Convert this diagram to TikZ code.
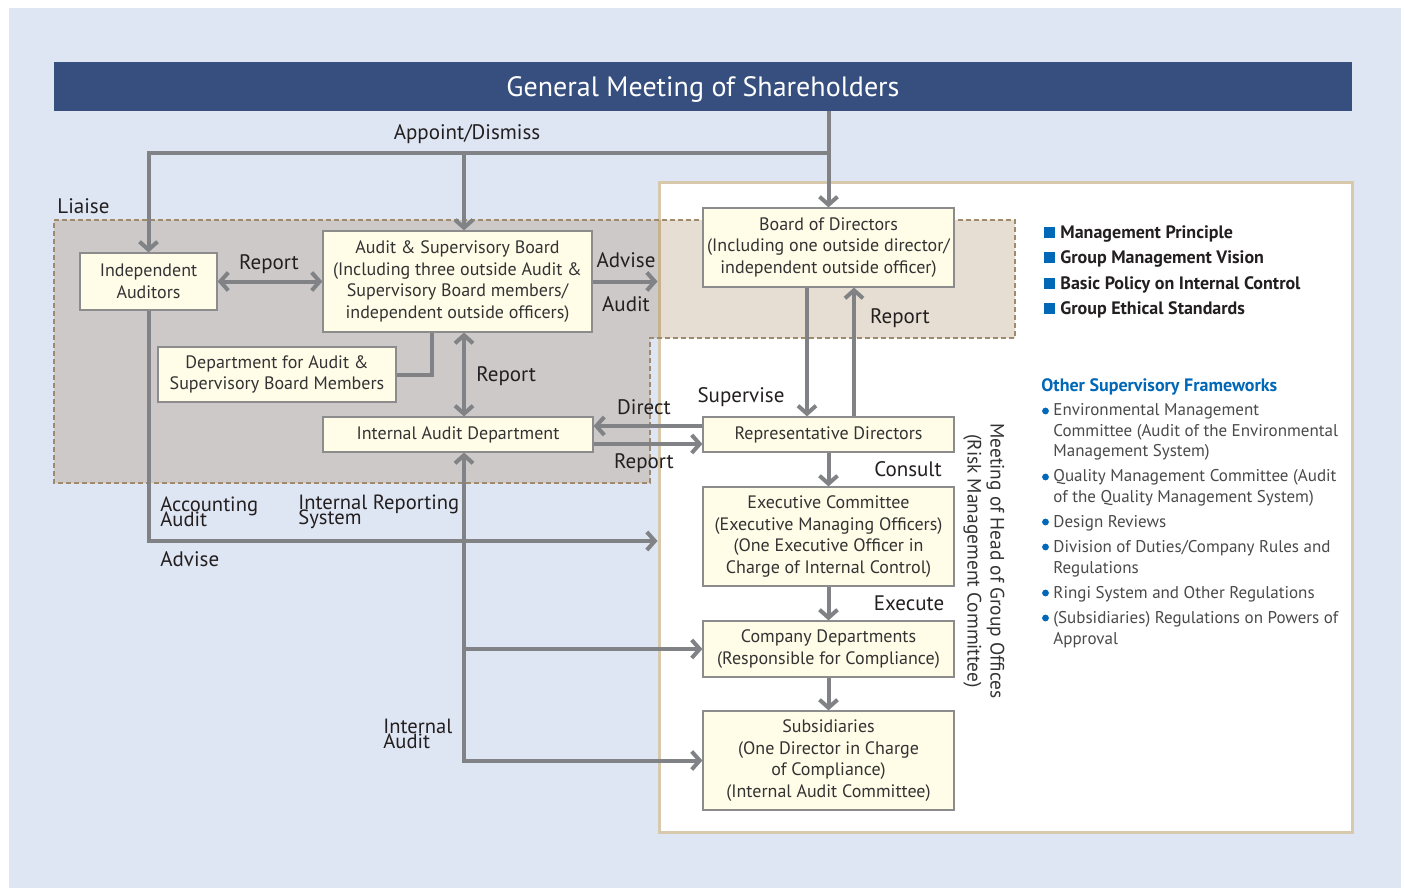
\documentclass[tikz,border=0pt]{standalone}
\usepackage{fontspec}
\setmainfont{PT Sans}
\usepackage{tikz}
\usetikzlibrary{arrows.meta,calc}
\usepackage{xcolor}
\definecolor{bgblue}{HTML}{DFE6F3}
\definecolor{hdrblue}{HTML}{364F7F}
\definecolor{panelline}{HTML}{D9C9AC}
\definecolor{dashline}{HTML}{A08A6C}
\definecolor{tint}{RGB}{120,77,12}
\definecolor{boxfill}{HTML}{FFFCE8}
\definecolor{boxline}{HTML}{8C8C8C}
\definecolor{arrgray}{HTML}{808285}
\definecolor{boxtext}{HTML}{333333}
\definecolor{lbltext}{HTML}{231F20}
\definecolor{ablue}{HTML}{0068B7}
\definecolor{fwktext}{HTML}{4A4A4A}
\newcommand\tightfont{\fontsize{10.3}{7.5}\selectfont\lineskiplimit=-20pt\relax}

\begin{document}
\begin{tikzpicture}[x=0.5pt,y=-0.5pt,>={Straight Barb[length=4pt,width=9pt]},
  every node/.style={font=\fontsize{9}{10.75}\selectfont,text=boxtext},
  box/.style={draw=boxline,line width=0.6pt,fill=boxfill,align=center,inner sep=0pt},
  lbl/.style={font=\fontsize{10.5}{12}\selectfont,text=lbltext},
  tight/.style={font=\tightfont,text=lbltext,align=left,anchor=west,inner sep=0pt},
  conn/.style={draw=arrgray,line width=2pt},
  sqmark/.style={fill=ablue,minimum size=5.5pt,inner sep=0pt},
  prin/.style={anchor=west,inner sep=0pt,font=\bfseries\fontsize{9}{10}\selectfont,text=lbltext},
  dotmark/.style={circle,fill=ablue,inner sep=0pt,minimum size=3.4pt},
  fwk/.style={anchor=west,align=left,inner sep=0pt,font=\fontsize{8.5}{10.25}\selectfont,text=fwktext}]
\useasboundingbox (0,0) rectangle (1404,888);
\fill[bgblue] (9,8) rectangle (1401,888);
\node[draw=panelline,line width=1.5pt,fill=white,minimum width=346.5pt,minimum height=324.5pt,inner sep=0pt] (pnl) at (1005.5,507.5) {};
% audit area
\draw[dashline,line width=1pt,dash pattern=on 2.5pt off 1.5pt,fill=tint,fill opacity=0.185]
  (54,220) -- (1015,220) -- (1015,338) -- (650,338) -- (650,483) -- (54,483) -- cycle;

\node[fill=hdrblue,minimum width=649pt,minimum height=24.5pt,inner sep=0pt,text depth=0pt,text=white,font=\fontsize{14}{16}\selectfont] (gms) at (703,86.5) {General Meeting of Shareholders};

\node[box,minimum width=68.5pt,minimum height=28.5pt] (ia) at (148.5,281.5) {Independent\\Auditors};
\node[box,minimum width=134.5pt,minimum height=50.5pt] (asb) at (457.5,281.5) {Audit \& Supervisory Board\\(Including three outside Audit \&\\Supervisory Board members/\\independent outside officers)};
\node[box,minimum width=119pt,minimum height=27.5pt] (dept) at (277,374.5) {Department for Audit \&\\Supervisory Board Members};
\node[box,minimum width=135pt,minimum height=17.5pt] (iad) at (458,434.5) {Internal Audit Department};
\node[box,minimum width=125.5pt,minimum height=39.5pt] (bod) at (828.5,247.5) {Board of Directors\\(Including one outside director/\\independent outside officer)};
\node[box,minimum width=125.5pt,minimum height=17.5pt] (rep) at (828.5,434.5) {Representative Directors};
\node[box,minimum width=125.5pt,minimum height=49.5pt] (exec) at (828.5,536.5) {Executive Committee\\(Executive Managing Officers)\\(One Executive Officer in\\Charge of Internal Control)};
\node[box,minimum width=125.5pt,minimum height=28pt] (comp) at (828.5,649) {Company Departments\\(Responsible for Compliance)};
\node[box,minimum width=125.5pt,minimum height=49.5pt] (subs) at (828.5,760.5) {Subsidiaries\\(One Director in Charge\\of Compliance)\\(Internal Audit Committee)};

% appoint / dismiss
\coordinate (fork) at (bod.north |- 0,153);
\coordinate (spine) at (464,153);
\draw[conn,->] (gms.south -| bod.north) -- (bod.north);
\draw[conn,->] (fork) -| (ia.north);
\draw[conn,->] (spine) -- (spine |- asb.north);
\node[lbl] (appt) at (467,134) {Appoint/Dismiss};
\node[lbl,anchor=west,inner sep=0pt] (liaise) at (57,206) {Liaise};

\draw[conn,<->] (ia.east) -- (ia.east -| asb.west);
\node[lbl] (rep1) at (269,264) {Report};
\draw[conn,->] (asb.east) -- (asb.east -| pnl.west);
\node[lbl] (adv1) at (626,260) {Advise};
\node[lbl] (aud1) at (626,304) {Audit};
\draw[conn] (dept.east) -| ([xshift=-12.75pt]asb.south);
\draw[conn,<->] (spine |- asb.south) -- (spine |- iad.north);
\node[lbl,anchor=west,inner sep=0pt] (rep2) at (476,376) {Report};

\draw[conn,->] ([yshift=4.25pt]rep.west) -- ([yshift=4.25pt]iad.east);
\draw[conn,->] ([yshift=-4.75pt]iad.east) -- ([yshift=-4.75pt]rep.west);
\node[lbl] (dir) at (644,407) {Direct};
\node[lbl] (rep3) at (644,463) {Report};

\draw[conn,->] ([xshift=-10.75pt]bod.south) -- ([xshift=-10.75pt]rep.north);
\draw[conn,->] ([xshift=12.75pt]rep.north) -- ([xshift=12.75pt]bod.south);
\node[lbl] (sup) at (741,397) {Supervise};
\node[lbl] (rep4) at (900,318) {Report};

\draw[conn,->] (rep) -- (exec);
\draw[conn,->] (exec) -- (comp);
\draw[conn,->] (comp) -- (subs);
\node[lbl] (cons) at (908,469) {Consult};
\node[lbl] (exe) at (909,603) {Execute};

% accounting audit / internal reporting
\draw[conn,->] (ia.south) |- (pnl.west |- 0,541);
\draw[conn,<->] (spine |- iad.south) |- (subs.west);
\draw[conn,->] (spine |- comp.west) -- (comp.west);
\node[tight] (acc) at (160,511.5) {Accounting\\Audit};
\node[lbl,anchor=west,inner sep=0pt] (adv2) at (160,559) {Advise};
\node[tight] (irs) at (298,511.5) {Internal Reporting\\System};
\node[tight] (inta) at (383,733.5) {Internal\\Audit};

\node[rotate=-90,align=center,font=\fontsize{9.7}{11.5}\selectfont] (mhg) at (984,561) {Meeting of Head of Group Offices\\(Risk Management Committee)};

% right column
\node[sqmark] (s1) at (1049.5,232) {};
\node[prin] (p1) at (1060,234) {Management Principle};
\node[sqmark] (s2) at (1049.5,257) {};
\node[prin] (p2) at (1060,259) {Group Management Vision};
\node[sqmark] (s3) at (1049.5,283) {};
\node[prin] (p3) at (1060,285) {Basic Policy on Internal Control};
\node[sqmark] (s4) at (1049.5,308) {};
\node[prin] (p4) at (1060,310) {Group Ethical Standards};

\node[prin,text=ablue] (osf) at (1041,387) {Other Supervisory Frameworks};
\node[dotmark] (d1) at (1045.5,411) {};
\node[fwk] (f1) at (1053,432) {Environmental Management\\Committee (Audit of the Environmental\\Management System)};
\node[dotmark] (d2) at (1045.5,477) {};
\node[fwk] (f2) at (1053,488) {Quality Management Committee (Audit\\of the Quality Management System)};
\node[dotmark] (d3) at (1045.5,522) {};
\node[fwk] (f3) at (1053,523) {Design Reviews};
\node[dotmark] (d4) at (1045.5,547) {};
\node[fwk] (f4) at (1053,558.5) {Division of Duties/Company Rules and\\Regulations};
\node[dotmark] (d5) at (1045.5,593) {};
\node[fwk] (f5) at (1053,594) {Ringi System and Other Regulations};
\node[dotmark] (d6) at (1045.5,618) {};
\node[fwk] (f6) at (1053,629.5) {(Subsidiaries) Regulations on Powers of\\Approval};
\end{tikzpicture}
\end{document}
